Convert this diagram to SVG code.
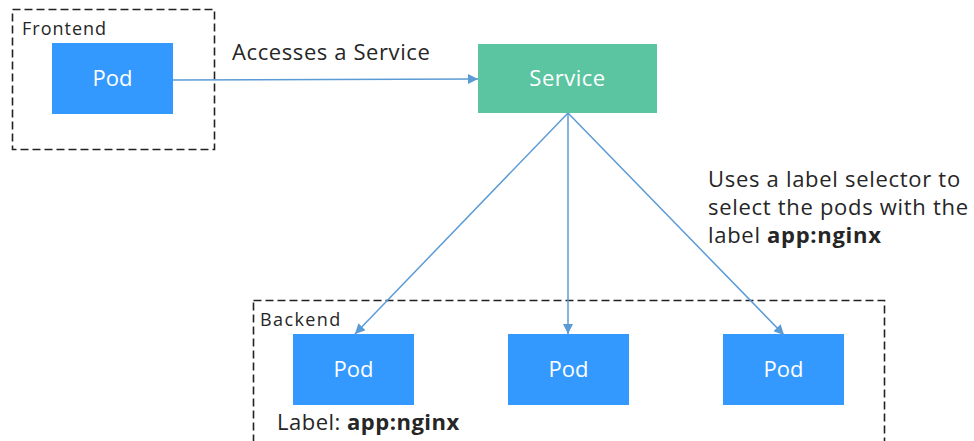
<svg xmlns="http://www.w3.org/2000/svg" width="974" height="441" viewBox="0 0 974 441">
<style>
.grp{fill:none;stroke:#222222;stroke-width:1.6;stroke-dasharray:8 4}
.pod{fill:#3399ff}
.svc{fill:#5bc4a0}
.in{font-family:"Open Sans","Noto Sans",sans-serif;font-size:22px;fill:#ffffff;text-anchor:middle}
.t{font-family:"Open Sans","Noto Sans",sans-serif;fill:#262626}
.conn{fill:none;stroke:#5b9bd5;stroke-width:1.5}
</style>
<defs>
<marker id="arr" viewBox="0 0 10 10" refX="10" refY="5" markerWidth="10" markerHeight="10" markerUnits="userSpaceOnUse" orient="auto">
<path d="M0,0 L10,5 L0,10 z" fill="#5b9bd5"/>
</marker>
</defs>
<rect width="974" height="441" fill="#ffffff"/>
<g id="frontend">
<rect class="grp" x="12.5" y="9.5" width="202" height="140"/>
<text class="t" x="22" y="35" font-size="18" letter-spacing="1">Frontend</text>
</g>
<g id="backend">
<rect class="grp" x="253.5" y="300.5" width="631" height="160"/>
<text class="t" x="260" y="326" font-size="18" letter-spacing="1.4">Backend</text>
</g>
<g id="frontend-pod">
<rect class="pod" x="52" y="43" width="121" height="71"/>
<text class="in" x="112.5" y="86">Pod</text>
</g>
<g id="service">
<rect class="svc" x="478" y="44" width="179" height="69"/>
<text class="in" x="567.5" y="86" letter-spacing="0.5">Service</text>
</g>
<g id="backend-pod-1">
<rect class="pod" x="293" y="334" width="121" height="71"/>
<text class="in" x="353.5" y="377">Pod</text>
</g>
<g id="backend-pod-2">
<rect class="pod" x="508" y="334" width="121" height="71"/>
<text class="in" x="568.5" y="377">Pod</text>
</g>
<g id="backend-pod-3">
<rect class="pod" x="723" y="334" width="121" height="71"/>
<text class="in" x="783.5" y="377">Pod</text>
</g>
<g id="connectors">
<line class="conn" x1="173" y1="80" x2="478" y2="79" marker-end="url(#arr)"/>
<line class="conn" x1="568" y1="113" x2="355" y2="334" marker-end="url(#arr)"/>
<line class="conn" x1="568" y1="113" x2="568" y2="334" marker-end="url(#arr)"/>
<line class="conn" x1="568" y1="113" x2="784" y2="335" marker-end="url(#arr)"/>
</g>
<g id="labels">
<text class="t" x="232" y="60" font-size="22" letter-spacing="0.6">Accesses a Service</text>
<text class="t" x="708" y="187" font-size="22" letter-spacing="0.7">Uses a label selector to</text>
<text class="t" x="708" y="215" font-size="22" letter-spacing="0.7">select the pods with the</text>
<text class="t" x="708" y="243" font-size="22" letter-spacing="0.7">label <tspan font-weight="bold">app:nginx</tspan></text>
<text class="t" x="277" y="430" font-size="22" letter-spacing="0.5">Label: <tspan font-weight="bold">app:nginx</tspan></text>
</g>
</svg>
